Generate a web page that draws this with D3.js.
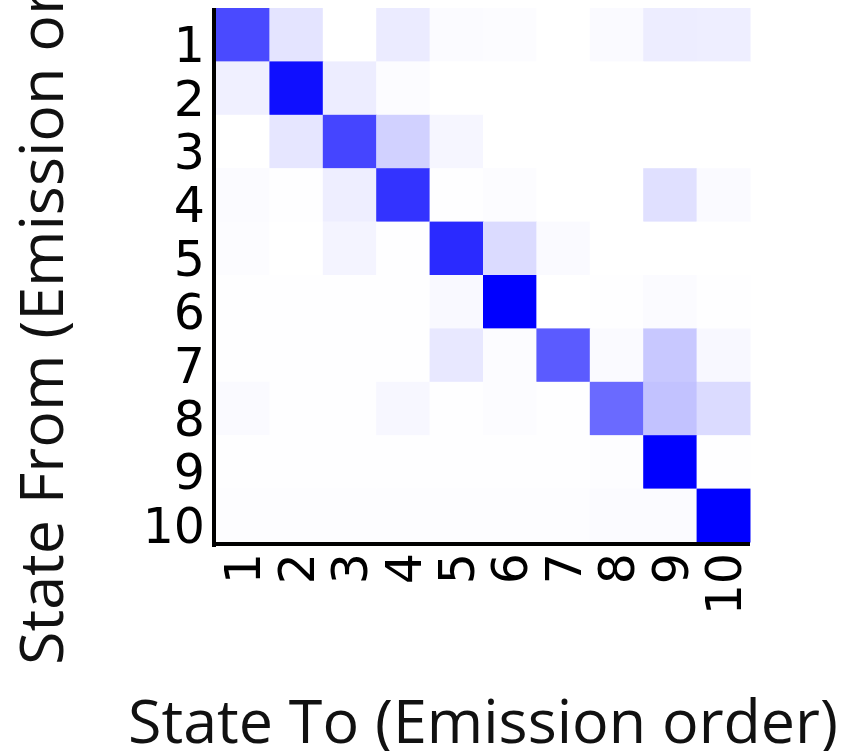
<!DOCTYPE html>
<html lang="en">
<head>
    <meta charset="UTF-8">
    <script src="https://d3js.org/d3.v7.min.js"></script>
    <title>State transitions</title>
    <style>
        body { margin: 0; background: white; }
        .tick text { font-family: "DejaVu Sans", sans-serif; fill: black; }
        .title { font-family: "Open Sans", sans-serif; fill: #111; }
    </style>
</head>
<body>
<script>
    // states, in emission order
    var states = ["1", "2", "3", "4", "5", "6", "7", "8", "9", "10"];
    // transition weights, one row per "from" state
    var row1  = [0.71, 0.105, 0, 0.08, 0.016, 0.01, 0, 0.02, 0.07, 0.065];
    var row2  = [0.06, 0.94, 0.07, 0.01, 0, 0, 0, 0, 0, 0];
    var row3  = [0, 0.1, 0.73, 0.18, 0.035, 0, 0, 0, 0, 0];
    var row4  = [0.015, 0.003, 0.065, 0.8, 0.003, 0.01, 0, 0, 0.12, 0.02];
    var row5  = [0.012, 0, 0.045, 0.005, 0.835, 0.14, 0.02, 0, 0, 0];
    var row6  = [0.004, 0.003, 0.003, 0.004, 0.025, 1.0, 0, 0.005, 0.015, 0.003];
    var row7  = [0.004, 0.003, 0.003, 0.004, 0.09, 0.01, 0.645, 0.02, 0.215, 0.028];
    var row8  = [0.02, 0.003, 0.003, 0.03, 0.003, 0.012, 0.003, 0.585, 0.24, 0.14];
    var row9  = [0.005, 0.005, 0.005, 0.005, 0.005, 0.005, 0.005, 0.006, 1.0, 0.003];
    var row10 = [0.006, 0.006, 0.006, 0.006, 0.006, 0.006, 0.006, 0.015, 0.015, 1.0];
    var rows = [row1, row2, row3, row4, row5, row6, row7, row8, row9, row10];

    var canvasWidth = 859;
    var canvasHeight = 751;
    var plotLeft = 216, plotTop = 8, plotSize = 534;

    var svg = d3.select("body").append("svg")
        .attr("width", canvasWidth)
        .attr("height", canvasHeight);

    var xScale = d3.scaleBand().domain(states).range([plotLeft, plotLeft + plotSize]);
    var yScale = d3.scaleBand().domain(states).range([plotTop, plotTop + plotSize]);
    var color = d3.scaleLinear().domain([0, 1]).range(["#ffffff", "#0000ff"]).clamp(true);

    var cells = [];
    rows.forEach(function(r, i) {
        r.forEach(function(v, j) {
            cells.push({from: states[i], to: states[j], value: v});
        });
    });

    svg.append("g").selectAll("rect").data(cells).enter().append("rect")
        .attr("x", function(d) { return xScale(d.to); })
        .attr("y", function(d) { return yScale(d.from); })
        .attr("width", xScale.bandwidth() + 0.5)
        .attr("height", yScale.bandwidth() + 0.5)
        .attr("fill", function(d) { return color(d.value); });

    // y axis
    var yAxis = svg.append("g")
        .attr("transform", "translate(" + (plotLeft - 2) + ",0)")
        .call(d3.axisLeft(yScale).tickSize(0).tickPadding(9));
    yAxis.select(".domain").attr("stroke", "black").attr("stroke-width", 4)
        .attr("d", "M0," + plotTop + "V" + (plotTop + plotSize + 5));
    yAxis.selectAll(".tick text")
        .style("font-size", "49px")
        .attr("dy", "0.56em");

    // x axis
    var xAxis = svg.append("g")
        .attr("transform", "translate(0," + (plotTop + plotSize + 2) + ")")
        .call(d3.axisBottom(xScale).tickSize(0));
    xAxis.select(".domain").attr("stroke", "black").attr("stroke-width", 4)
        .attr("d", "M" + (plotLeft - 4) + ",0H" + (plotLeft + plotSize));
    xAxis.selectAll(".tick text")
        .style("font-size", "49px")
        .attr("transform", "rotate(-90)")
        .attr("text-anchor", "end")
        .attr("x", -9)
        .attr("y", 0)
        .attr("dy", "0.36em");

    // titles
    var xTitle = svg.append("text").attr("class", "title")
        .attr("x", plotLeft + plotSize / 2)
        .attr("y", 743)
        .attr("text-anchor", "middle")
        .style("font-size", "60px")
        .text("State To (Emission order)");
    var yTitle = svg.append("text").attr("class", "title")
        .attr("transform", "translate(63,665) rotate(-90)")
        .attr("text-anchor", "start")
        .style("font-size", "60px")
        .text("State From (Emission order)");

    // squeeze titles to the width seen in the figure
    var k = 710 / xTitle.node().getComputedTextLength();
    xTitle.attr("textLength", 710).attr("lengthAdjust", "spacingAndGlyphs");
    yTitle.attr("textLength", yTitle.node().getComputedTextLength() * k)
        .attr("lengthAdjust", "spacingAndGlyphs");
</script>
</body>
</html>
